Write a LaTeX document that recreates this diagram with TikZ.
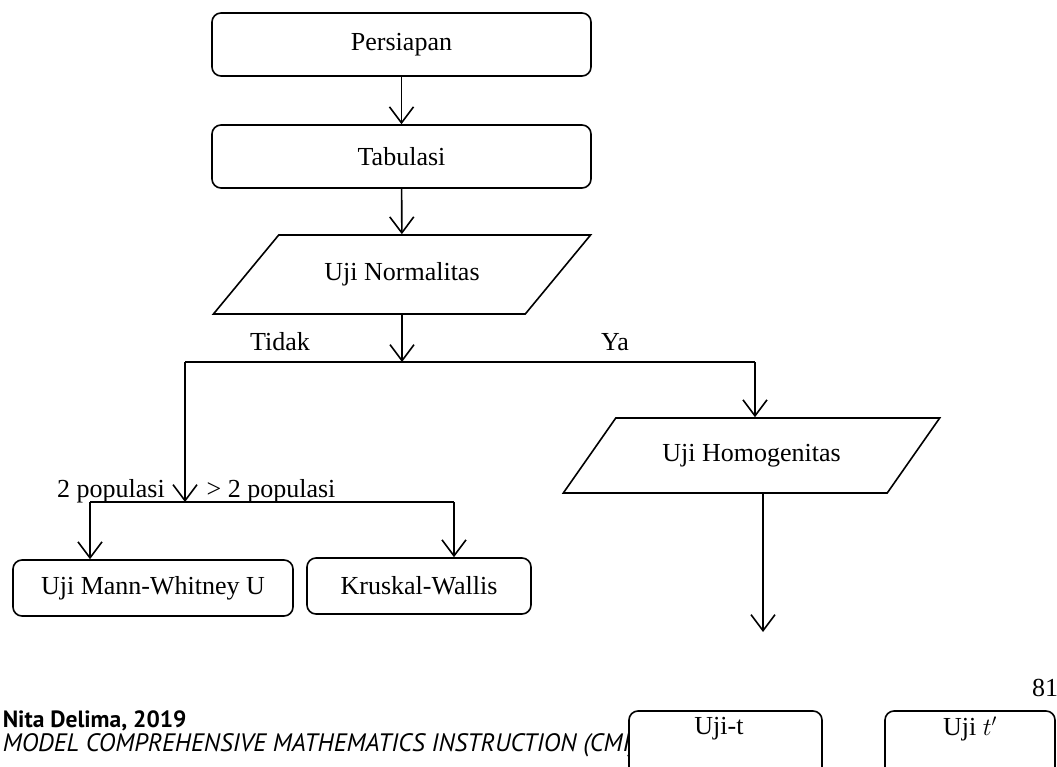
\documentclass[tikz,border=0pt]{standalone}
\usepackage{fontspec}
\setmainfont{Liberation Serif}
\newfontfamily\footfont{PT Sans}
\usetikzlibrary{arrows.meta,shapes.geometric}

\tikzset{
  stepbox/.style={draw,rounded corners=9pt,fill=white,line width=1.6pt},
  databox/.style={draw,trapezium,trapezium stretches=true,fill=white,line width=1.6pt},
  arr/.style={-{Straight Barb[length=16pt,width=24pt,line width=1.6pt]}},
}

\begin{document}
\begin{tikzpicture}[x=1pt,y=-1pt,line width=1.6pt,font=\fontsize{26}{31}\selectfont]
  \useasboundingbox (0,0) rectangle (1057,767);

  % footer of the page
  \node[anchor=base west,inner sep=0,font=\footfont\bfseries\fontsize{23.5}{27}\selectfont] (author) at (2,727) {Nita Delima, 2019};
  \node[anchor=base west,inner sep=0,font=\footfont\itshape\fontsize{25.2}{29}\selectfont] (title) at (2,751) {MODEL COMPREHENSIVE MATHEMATICS INSTRUCTION (CMI)};
  \node[anchor=east,inner sep=0] (page) at (1059,688) {81};

  % steps
  \node[stepbox,minimum width=379pt,minimum height=63pt] (persiapan) at (401.5,44.5) {Persiapan};
  \node[stepbox,minimum width=379pt,minimum height=63pt] (tabulasi) at (401.5,156.5) {Tabulasi};
  \node[databox,trapezium left angle=35.2,trapezium right angle=144.8,
        minimum width=378pt,minimum height=79pt] (normalitas) at (402,274.5) {Uji Normalitas};
  \node[databox,trapezium left angle=39.5,trapezium right angle=140.5,
        minimum width=377pt,minimum height=75pt] (homogenitas) at (751.5,455.5) {Uji Homogenitas};
  \node[stepbox,minimum width=280pt,minimum height=56pt] (mann) at (153,588) {Uji Mann-Whitney U};
  \node[stepbox,minimum width=224pt,minimum height=56pt] (kruskal) at (419,586) {Kruskal-Wallis};
  \node[stepbox,minimum width=193pt,minimum height=80pt] (ujit) at (725.5,751) {};
  \node (ujitlabel) at (719,729) {Uji-t};
  \node[stepbox,minimum width=170pt,minimum height=80pt] (ujitt) at (970,751) {};
  \node (ujittlabel) at (970,729) {Uji $t'$};

  % branch points
  \coordinate (tidak) at (185,362);
  \coordinate (ya) at (755,362);
  \coordinate (pop) at (185,502);
  \coordinate (popl) at (90,502);
  \coordinate (popr) at (454,502);
  \coordinate (hend) at (763,632);

  \draw[arr] (persiapan) -- (tabulasi);
  \draw[arr] (tabulasi) -- (normalitas);
  \draw[arr] (normalitas.south) -- (normalitas.south |- tidak);
  \draw (tidak) -- (ya);
  \draw[arr] (ya) -- (ya |- homogenitas.north);
  \draw[arr] (tidak) -- (pop);
  \draw (popl) -- (popr);
  \draw[arr] (popl) -- (popl |- mann.north);
  \draw[arr] (popr) -- (popr |- kruskal.north);
  \draw[arr] (hend |- homogenitas.south) -- (hend);

  % branch labels
  \node[anchor=base] (tidaklabel) at (280,350) {Tidak};
  \node[anchor=base] (yalabel) at (615,350) {Ya};
  \node[anchor=base] (twolabel) at (111,497) {2 populasi};
  \node[anchor=base] (morelabel) at (271,497) {> 2 populasi};
\end{tikzpicture}
\end{document}
